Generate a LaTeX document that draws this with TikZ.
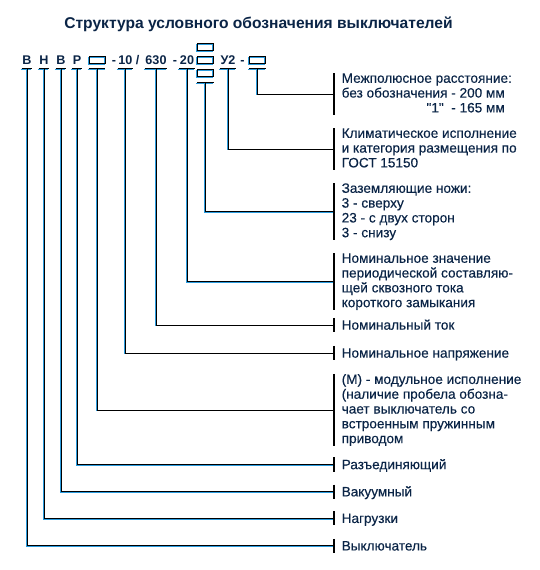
\documentclass[tikz,border=0pt]{standalone}
\usepackage{fontspec}
\setmainfont{Liberation Sans}
\newfontfamily\lf{Liberation Sans}[FakeBold=0.35]
\definecolor{txt}{HTML}{0A2446}
\definecolor{shb}{HTML}{2A9BDD}
\newcommand\sr{\rule[-2.2pt]{0pt}{11.5pt}}
\newsavebox\refbox
\begin{document}
\sbox\refbox{\lf\fontsize{13.6}{14.8}\selectfont без обозначения - 200 мм}%
\begin{tikzpicture}[x=1pt,y=-1pt,
 ln/.style={line width=0.9pt, draw=black, preaction={draw=shb, line width=0.9pt, transform canvas={shift={(-0.9pt,-0.9pt)}}}},
 br/.style={line width=2.2pt, draw=black},
 cd/.style={font=\fontsize{12.6}{12}\selectfont\bfseries, text=txt, inner xsep=0.6pt, inner ysep=0pt, text height=9pt, text depth=0pt, anchor=base},
 bx/.style={ln, minimum width=16pt, minimum height=7pt, inner sep=0pt},
 lb/.style={font=\lf\fontsize{13.6}{14.8}\selectfont, text=txt, align=left, inner sep=0pt, anchor=west},
 lb1/.style={lb, text height=11.5pt, text depth=2.2pt},
]
\useasboundingbox (0,0) rectangle (540,570);

\node[font=\fontsize{15.6}{15}\selectfont\bfseries, text=txt, anchor=base] (T) at (258.5,28) {Структура условного обозначения выключателей};

% code row
\node[cd] (c1) at (27,64) {В};
\node[cd] (c2) at (44,64) {Н};
\node[cd] (c3) at (61,64) {В};
\node[cd] (c4) at (77,64) {Р};
\node[bx] (b1) at (97,60) {};
\node[cd] (d1) at (114,64) {-};
\node[cd] (c6) at (125.5,64) {10};
\node[cd] (d2) at (137.5,64) {/};
\node[cd] (c7) at (156,64) {630};
\node[cd] (d3) at (175,64) {-};
\node[cd] (c8) at (187,64) {20};
\node[bx] (s1) at (205.7,47) {};
\node[bx] (s2) at (205.7,60) {};
\node[bx] (s3) at (205.7,73) {};
\node[cd] (c10) at (228,64) {У2};
\node[cd] (d4) at (242.5,64) {-};
\node[bx] (b2) at (257.5,60) {};

% labels
\node[lb] (L1) at (341.5,94) {\sr Межполюсное расстояние:\\\sr без обозначения - 200 мм\\\sr\makebox[\wd\refbox][r]{"1"\ \ - 165 мм}};
\node[lb] (L2) at (341.5,149) {\sr Климатическое исполнение\\\sr и категория размещения по\\\sr ГОСТ 15150};
\node[lb] (L3) at (341.5,211.7) {\sr Заземляющие ножи:\\\sr 3 - сверху\\\sr 23 - с двух сторон\\\sr 3 - снизу};
\node[lb] (L4) at (341.5,281.7) {\sr Номинальное значение\\\sr периодической составляю-\\\sr щей сквозного тока\\\sr короткого замыкания};
\node[lb1] (L5) at (341.5,325) {Номинальный ток};
\node[lb1] (L6) at (341.5,353) {Номинальное напряжение};
\node[lb] (L7) at (341.5,410) {\sr (М) - модульное исполнение\\\sr (наличие пробела обозна-\\\sr чает выключатель со\\\sr встроенным пружинным\\\sr приводом};
\node[lb1] (L8) at (341.5,464.5) {Разъединяющий};
\node[lb1] (L9) at (341.5,491.7) {Вакуумный};
\node[lb1] (L10) at (341.5,518.3) {Нагрузки};
\node[lb1] (L11) at (341.5,545.8) {Выключатель};

% brackets
\foreach \n in {L1,L2,L3,L4,L5,L6,L7,L8,L9,L10,L11}
  \draw[br] ([xshift=-7.5pt]\n.north west) -- ([xshift=-7.5pt]\n.south west);

% underbars
\foreach \n in {c1,c2,c3,c4,c6,c7,c8,c10}
  \draw[ln] ([yshift=-4pt]\n.south west) -- ([yshift=-4pt]\n.south east);
\foreach \n in {b1,b2}
  \draw[ln] ([yshift=-4.5pt]\n.south west) -- ([yshift=-4.5pt]\n.south east);
\draw[ln] ([yshift=-5.5pt]s3.south west) -- ([yshift=-5.5pt]s3.south east);

% connectors
\draw[ln] ([yshift=-4pt]c1.south) |- ([xshift=-7.5pt]L11.west);
\draw[ln] ([yshift=-4pt]c2.south) |- ([xshift=-7.5pt]L10.west);
\draw[ln] ([yshift=-4pt]c3.south) |- ([xshift=-7.5pt]L9.west);
\draw[ln] ([yshift=-4pt]c4.south) |- ([xshift=-7.5pt]L8.west);
\draw[ln] ([yshift=-4.5pt]b1.south) |- ([xshift=-7.5pt]L7.west);
\draw[ln] ([yshift=-4pt]c6.south) |- ([xshift=-7.5pt]L6.west);
\draw[ln] ([yshift=-4pt]c7.south) |- ([xshift=-7.5pt]L5.west);
\draw[ln] ([yshift=-4pt]c8.south) |- ([xshift=-7.5pt]L4.west);
\draw[ln] ([yshift=-5.5pt]s3.south) |- ([xshift=-7.5pt]L3.west);
\draw[ln] ([yshift=-4pt]c10.south) |- ([xshift=-7.5pt]L2.west);
\draw[ln] ([yshift=-4.5pt]b2.south) |- ([xshift=-7.5pt]L1.west);
\end{tikzpicture}
\end{document}
